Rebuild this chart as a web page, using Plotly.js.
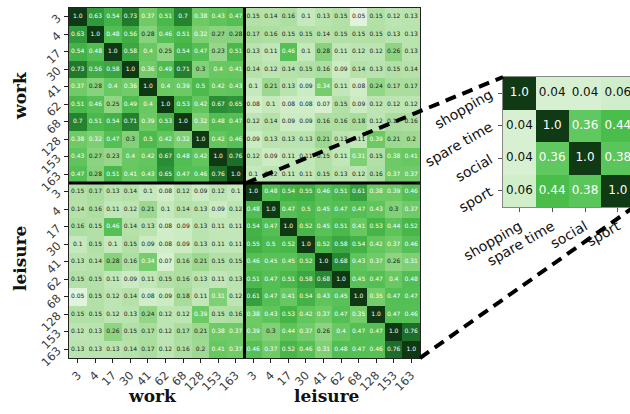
<!DOCTYPE html>
<html><head><meta charset="utf-8">
<script src="https://cdn.plot.ly/plotly-3.0.1.min.js"></script>
<style>html,body{margin:0;padding:0;background:#fff}#chart{width:630px;height:414px}</style>
</head><body><div id="chart"></div>
<script>
// ---- data ----
const tickLabels = ['3','4','17','30','41','62','68','128','153','163'];
const groupNames = ['work','leisure'];

const workWork = [
 [1.0,0.63,0.54,0.73,0.37,0.51,0.7,0.38,0.43,0.47],
 [0.63,1.0,0.48,0.56,0.28,0.46,0.51,0.32,0.27,0.28],
 [0.54,0.48,1.0,0.58,0.4,0.25,0.54,0.47,0.23,0.51],
 [0.73,0.56,0.58,1.0,0.36,0.49,0.71,0.3,0.4,0.41],
 [0.37,0.28,0.4,0.36,1.0,0.4,0.39,0.5,0.42,0.43],
 [0.51,0.46,0.25,0.49,0.4,1.0,0.53,0.42,0.67,0.65],
 [0.7,0.51,0.54,0.71,0.39,0.53,1.0,0.32,0.48,0.47],
 [0.38,0.32,0.47,0.3,0.5,0.42,0.32,1.0,0.42,0.46],
 [0.43,0.27,0.23,0.4,0.42,0.67,0.48,0.42,1.0,0.76],
 [0.47,0.28,0.51,0.41,0.43,0.65,0.47,0.46,0.76,1.0]
];
const workLeisure = [
 [0.15,0.14,0.16,0.1,0.13,0.15,0.05,0.15,0.12,0.13],
 [0.17,0.16,0.15,0.15,0.14,0.15,0.15,0.15,0.13,0.13],
 [0.13,0.11,0.46,0.1,0.28,0.11,0.12,0.12,0.26,0.13],
 [0.14,0.12,0.14,0.15,0.16,0.09,0.14,0.13,0.15,0.14],
 [0.1,0.21,0.13,0.09,0.34,0.11,0.08,0.24,0.17,0.17],
 [0.08,0.1,0.08,0.08,0.07,0.15,0.09,0.12,0.12,0.12],
 [0.12,0.14,0.09,0.09,0.16,0.16,0.18,0.12,0.17,0.16],
 [0.09,0.13,0.13,0.13,0.21,0.13,0.11,0.39,0.21,0.2],
 [0.12,0.09,0.11,0.11,0.15,0.11,0.31,0.15,0.38,0.41],
 [0.1,0.12,0.11,0.11,0.15,0.13,0.12,0.16,0.37,0.37]
];
const leisureWork = [
 [0.15,0.17,0.13,0.14,0.1,0.08,0.12,0.09,0.12,0.1],
 [0.14,0.16,0.11,0.12,0.21,0.1,0.14,0.13,0.09,0.12],
 [0.16,0.15,0.46,0.14,0.13,0.08,0.09,0.13,0.11,0.11],
 [0.1,0.15,0.1,0.15,0.09,0.08,0.09,0.13,0.11,0.11],
 [0.13,0.14,0.28,0.16,0.34,0.07,0.16,0.21,0.15,0.15],
 [0.15,0.15,0.11,0.09,0.11,0.15,0.16,0.13,0.11,0.13],
 [0.05,0.15,0.12,0.14,0.08,0.09,0.18,0.11,0.31,0.12],
 [0.15,0.15,0.12,0.13,0.24,0.12,0.12,0.39,0.15,0.16],
 [0.12,0.13,0.26,0.15,0.17,0.12,0.17,0.21,0.38,0.37],
 [0.13,0.13,0.13,0.14,0.17,0.12,0.16,0.2,0.41,0.37]
];
const leisureLeisure = [
 [1.0,0.48,0.54,0.55,0.46,0.51,0.61,0.38,0.39,0.46],
 [0.48,1.0,0.47,0.5,0.45,0.47,0.47,0.43,0.3,0.37],
 [0.54,0.47,1.0,0.52,0.45,0.51,0.41,0.53,0.44,0.52],
 [0.55,0.5,0.52,1.0,0.52,0.58,0.54,0.42,0.37,0.46],
 [0.46,0.45,0.45,0.52,1.0,0.68,0.43,0.37,0.26,0.31],
 [0.51,0.47,0.51,0.58,0.68,1.0,0.45,0.47,0.4,0.48],
 [0.61,0.47,0.41,0.54,0.43,0.45,1.0,0.35,0.47,0.47],
 [0.38,0.43,0.53,0.42,0.37,0.47,0.35,1.0,0.47,0.46],
 [0.39,0.3,0.44,0.37,0.26,0.4,0.47,0.47,1.0,0.76],
 [0.46,0.37,0.52,0.46,0.31,0.48,0.47,0.46,0.76,1.0]
];

const insetCategories = ['shopping','spare time','social','sport'];
const insetValues = [
 [1.0,0.04,0.04,0.06],
 [0.04,1.0,0.36,0.44],
 [0.04,0.36,1.0,0.38],
 [0.06,0.44,0.38,1.0]
];

// ---- build ----
const z = [];
for (let i = 0; i < 10; i++) z.push(workWork[i].concat(workLeisure[i]));
for (let i = 0; i < 10; i++) z.push(leisureWork[i].concat(leisureLeisure[i]));
const n = z.length;
const idx = [...Array(n).keys()];
const allTicks = tickLabels.concat(tickLabels);
const fmt = v => (v === 1 ? '1.0' : String(v));

const tx = [], ty = [], tt = [], tc = [];
z.forEach((row, i) => row.forEach((v, j) => {
  tx.push(j); ty.push(i); tt.push(fmt(v)); tc.push(v > 0.305 ? '#ffffff' : '#1a1a1a');
}));

const m = insetValues.length;
const iidx = [...Array(m).keys()];
const ix = [], iy = [], it = [], ic = [];
insetValues.forEach((row, i) => row.forEach((v, j) => {
  ix.push(j); iy.push(i); it.push(fmt(v)); ic.push(v > 0.2 ? '#ffffff' : '#111111');
}));

const mainScale = [
 [0,'#eef9ea'],[0.05,'#e1f3dc'],[0.08,'#d0edc8'],[0.1,'#c5e9bc'],[0.15,'#b2e0a6'],
 [0.2,'#a0d993'],[0.28,'#88d27d'],[0.35,'#74cc6a'],[0.4,'#6ac862'],[0.46,'#56c056'],
 [0.5,'#4dba4d'],[0.55,'#43b045'],[0.63,'#31993d'],[0.7,'#25832f'],[0.76,'#1d6e28'],
 [0.85,'#16551f'],[1,'#0e3912']
];
const insetScale = [
 [0,'#def2d8'],[0.04,'#d8f0d2'],[0.2,'#9fdc93'],[0.36,'#5fc85f'],[0.38,'#5ac55a'],
 [0.44,'#4bbd4b'],[0.7,'#247a2c'],[1,'#0f3a14']
];

const data = [
 {type:'heatmap', x: idx, y: idx, z: z, zmin: 0, zmax: 1, colorscale: mainScale,
  showscale: false, hoverinfo: 'z', xgap: 0, ygap: 0},
 {type:'scatter', mode:'text', x: tx, y: ty, text: tt,
  textfont: {family:'DejaVu Sans', size: 6, color: tc}, hoverinfo:'skip', showlegend:false},
 {type:'heatmap', x: iidx, y: iidx, z: insetValues, zmin: 0, zmax: 1, colorscale: insetScale,
  showscale: false, xaxis:'x2', yaxis:'y2', hoverinfo:'z'},
 {type:'scatter', mode:'text', x: ix, y: iy, text: it, xaxis:'x2', yaxis:'y2',
  textfont: {family:'DejaVu Sans', size: 12, color: ic}, hoverinfo:'skip', showlegend:false}
];

// pixel helpers (paper: x 69..630, y 8..358)
const L = 69, R = 0, T = 8, B = 56, W = 630, H = 414;
const pw = W - L - R, ph = H - T - B;
const px = x => (x - L) / pw;
const py = y => (H - B - y) / ph;

const groupFont = {family:'DejaVu Serif', size:17, color:'#111', weight:'bold'};

const layout = {
  width: W, height: H,
  margin: {l: L, r: R, t: T, b: B, pad: 0},
  paper_bgcolor: '#ffffff', plot_bgcolor: '#ffffff',
  showlegend: false,
  font: {family: 'DejaVu Sans', color: '#333'},
  xaxis: {domain: [0, px(420)], range: [-0.5, n - 0.5], tickmode: 'array', tickvals: idx,
    ticktext: allTicks, tickangle: -45, ticks: 'outside', ticklen: 4, tickcolor: '#222',
    tickfont: {family: 'DejaVu Sans', size: 11.5, color: '#3a3a3a'}, ticklabelstandoff: 1,
    showline: true, mirror: true, linecolor: '#222', linewidth: 1,
    showgrid: false, zeroline: false, automargin: false},
  yaxis: {domain: [0, 1], range: [n - 0.5, -0.5], tickmode: 'array', tickvals: idx,
    ticktext: allTicks, tickangle: -45, ticks: 'outside', ticklen: 4, tickcolor: '#222',
    tickfont: {family: 'DejaVu Sans', size: 11.5, color: '#3a3a3a'}, ticklabelstandoff: 4,
    showline: true, mirror: true, linecolor: '#222', linewidth: 1,
    showgrid: false, zeroline: false, automargin: false},
  xaxis2: {domain: [px(503), 1], anchor: 'y2', range: [-0.5, 3.37], tickmode: 'array',
    tickvals: iidx, ticktext: insetCategories, tickangle: -30, ticks: 'outside', ticklen: 4,
    tickcolor: '#555', tickfont: {family: 'DejaVu Sans', size: 14, color: '#111'},
    showline: true, mirror: true, linecolor: '#888', linewidth: 1, ticklabelstandoff: 1,
    showgrid: false, zeroline: false, automargin: false},
  yaxis2: {domain: [py(207), py(77)], anchor: 'x2', range: [m - 0.5, -0.5], tickmode: 'array',
    tickvals: iidx, ticktext: insetCategories, tickangle: -30, ticks: 'outside', ticklen: 4,
    tickcolor: '#555', tickfont: {family: 'DejaVu Sans', size: 14, color: '#111'},
    showline: true, mirror: true, linecolor: '#888', linewidth: 1, ticklabelstandoff: 5,
    showgrid: false, zeroline: false, automargin: false},
  shapes: [
    {type:'line', xref:'x', yref:'y', x0: 9.5, x1: 9.5, y0: -0.5, y1: 19.5,
     line:{color:'#000', width:3}},
    {type:'line', xref:'x', yref:'y', x0: -0.5, x1: 19.5, y0: 9.5, y1: 9.5,
     line:{color:'#000', width:3}},
    {type:'line', xref:'paper', yref:'paper', x0: px(246), y0: py(183), x1: px(503), y1: py(77),
     line:{color:'#000', width:4, dash:'11px,7px'}},
    {type:'line', xref:'paper', yref:'paper', x0: px(420), y0: py(358), x1: px(634), y1: py(207),
     line:{color:'#000', width:4, dash:'11px,7px'}}
  ],
  annotations: [
    {xref:'paper', yref:'paper', x: px(152), y: py(396), xanchor:'center', yanchor:'middle',
     text: groupNames[0], showarrow:false, font: groupFont},
    {xref:'paper', yref:'paper', x: px(327), y: py(396), xanchor:'center', yanchor:'middle',
     text: groupNames[1], showarrow:false, font: groupFont},
    {xref:'paper', yref:'paper', x: px(20), y: py(96), xanchor:'center', yanchor:'middle',
     text: groupNames[0], showarrow:false, textangle: -90, font: groupFont},
    {xref:'paper', yref:'paper', x: px(20), y: py(258), xanchor:'center', yanchor:'middle',
     text: groupNames[1], showarrow:false, textangle: -90, font: groupFont}
  ]
};

Plotly.newPlot('chart', data, layout, {displayModeBar: false, staticPlot: true});
</script>
</body></html>
